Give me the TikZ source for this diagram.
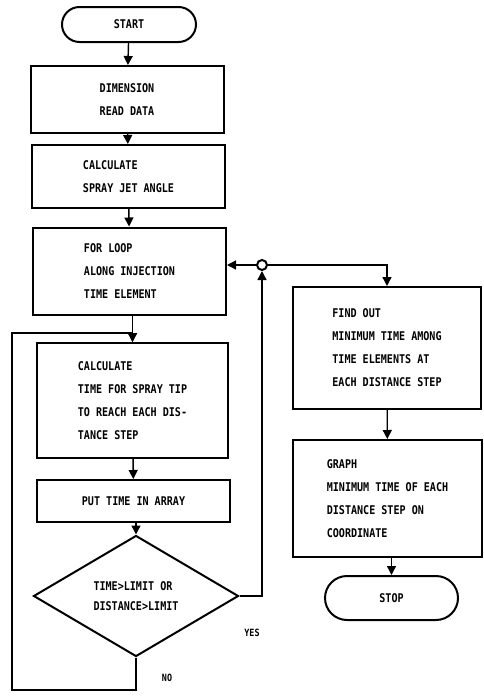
\documentclass[tikz,border=0pt]{standalone}
\usepackage{fontspec}
\newfontfamily\chartfont[FakeStretch=0.84]{DejaVu Sans Mono}
\usetikzlibrary{arrows.meta,shapes.geometric,shapes.misc}

\tikzset{
    chart/.style={font=\chartfont\bfseries\fontsize{12}{23}\selectfont},
    box/.style={chart, draw, line width=2pt, align=left, inner sep=0pt},
    term/.style={chart, draw, rounded rectangle, line width=2pt, inner sep=0pt},
    decision/.style={chart, draw, diamond, line width=2pt, align=left, inner sep=0pt,
        font=\chartfont\bfseries\fontsize{12}{20}\selectfont},
    flow/.style={line width=1.4pt, -{Triangle[length=9pt,width=9pt]}},
    tag/.style={font=\chartfont\bfseries\fontsize{10}{12}\selectfont}
}

\begin{document}
\begin{tikzpicture}[x=1pt,y=-1pt]
    \useasboundingbox (0,0) rectangle (483,696);
    % main column
    \node[term, minimum width=134pt, minimum height=35pt] (start) at (129,24.5) {START};
    \node[box, minimum width=193pt, minimum height=67pt] (dim) at (127,99.5) {DIMENSION\\READ DATA};
    \node[box, minimum width=193pt, minimum height=63pt] (angle) at (128.5,176.5) {CALCULATE\\SPRAY JET ANGLE};
    \node[box, minimum width=193pt, minimum height=87pt] (loop) at (129.5,271) {FOR LOOP\\ALONG INJECTION\\TIME ELEMENT};
    \node[box, minimum width=191pt, minimum height=115pt] (tip) at (132.5,400.5) {CALCULATE\\TIME FOR SPRAY TIP\\TO REACH EACH DIS-\\TANCE STEP};
    \node[box, minimum width=193pt, minimum height=42pt] (array) at (133.5,501) {PUT TIME IN ARRAY};
    \node[decision, minimum width=205pt, minimum height=121pt, aspect=1.7] (test) at (136,596) {TIME>LIMIT OR\\DISTANCE>LIMIT};
    % right column
    \node[draw, circle, line width=2pt, minimum size=10pt, inner sep=0pt] (jn) at (262,265) {};
    \node[box, minimum width=188pt, minimum height=122pt] (find) at (387,348) {FIND OUT\\MINIMUM TIME AMONG\\TIME ELEMENTS AT\\EACH DISTANCE STEP};
    \node[box, minimum width=189pt, minimum height=117pt] (graph) at (387.5,498.5) {GRAPH\\MINIMUM TIME OF EACH\\DISTANCE STEP ON\\COORDINATE};
    \node[term, minimum width=133pt, minimum height=44pt] (stop) at (391.5,598) {STOP};
    \coordinate (noleft) at (12,690);
    \coordinate (merge) at (130,333);
    % connectors
    \draw[flow] (start) -- (dim);
    \draw[flow] (dim) -- (angle);
    \draw[flow] (angle) -- (loop);
    \draw[flow] (loop.south -| tip.north) -- (tip.north);
    \draw[flow] (tip) -- (array);
    \draw[flow] (array.south -| test.north) -- (test.north);
    \draw[flow] (test.east) -| (jn.south);
    \draw[flow] (jn.west) -- (loop.east |- jn);
    \draw[flow] (jn.east) -| (find.north);
    \draw[flow] (find) -- (graph);
    \draw[flow] (graph.south -| stop.north) -- (stop.north);
    \draw[flow] (test.south) |- (noleft) |- (merge) -- (merge -| tip.north) -- (tip.north);
    \node[tag] (yes) at (252,633) {YES};
    \node[tag] (no) at (167,678) {NO};
\end{tikzpicture}
\end{document}
